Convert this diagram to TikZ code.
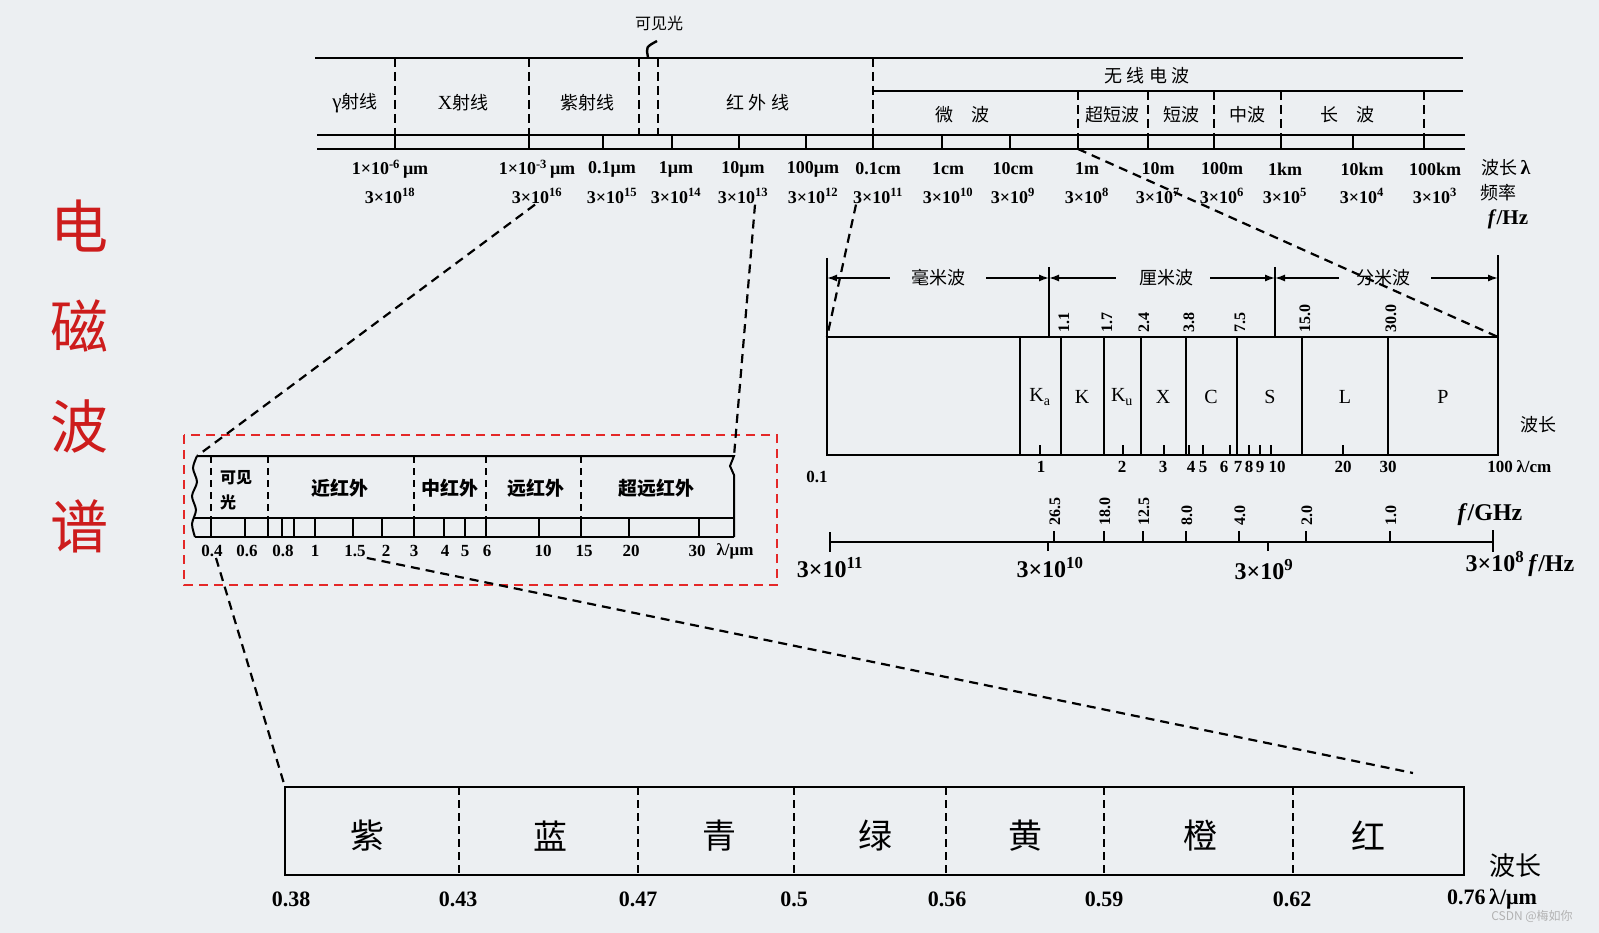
\documentclass[tikz,border=0pt]{standalone}
\usepackage{fontspec}
\setmainfont{Liberation Serif}
\newfontfamily\cjk{Noto Sans CJK SC}
\usetikzlibrary{arrows.meta}
\definecolor{titlered}{RGB}{205,28,28}
\definecolor{boxred}{RGB}{228,40,40}
\definecolor{bgray}{RGB}{236,239,242}

\begin{document}
\begin{tikzpicture}[x=1pt, y=-1pt,
  bandline/.style={line width=2.8pt},
  gapline/.style={line width=2.4pt, dash pattern=on 9pt off 5pt},
  zoomline/.style={line width=2.2pt, dash pattern=on 9pt off 6pt},
  rule/.style={line width=2pt},
  arr/.style={-{Latex[length=10pt,width=7pt]}, line width=1.4pt},
  num/.style={font=\fontsize{18}{20}\selectfont\bfseries, inner sep=1pt},
  cn/.style={font=\cjk\fontsize{18}{20}\selectfont, inner sep=1pt},
  rot/.style={font=\fontsize{16}{16}\selectfont\bfseries, rotate=90, anchor=west, inner sep=1pt},
  title/.style={font=\cjk\fontsize{58}{58}\selectfont, text=titlered, inner sep=0pt}]
\useasboundingbox (0,0) rectangle (1599,933);
\fill[bgray] (0,0) rectangle (1599,933);

\foreach \ch [count=\i] in {电,磁,波,谱}
  \node[title] (t\i) at (79,126+100*\i) {\ch};

\draw[bandline] (315,58) -- (1463,58);
\draw[bandline] (873,91) -- (1463,91);
\draw[bandline] (317,135) -- (1465,135);
\draw[bandline] (317,149) -- (1465,149);
\foreach \x in {395,529,639,658,873} \draw[gapline] (\x,58) -- (\x,135);
\foreach \x in {1078,1148,1214,1281,1424} \draw[gapline] (\x,91) -- (\x,135);
\foreach \x in {395,529,603,672,739,806,873,942,1010,1078,1148,1214,1281,1353,1424}
  \draw[bandline] (\x,135) -- (\x,149);
\coordinate (tick1m) at (1078,149);

\node[cn] (gam) at (355,103) {{\rmfamily\fontsize{21}{21}\selectfont γ}射线};
\node[cn] (xray) at (463,103) {{\rmfamily\fontsize{20}{20}\selectfont X}射线};
\node[cn] (uv) at (587,103) {紫射线};
\node[cn] (ir) at (758,103) {红 外 线};
\node[cn] (radio) at (1147,76) {无 线 电 波};
\node[cn] (micro) at (962,115) {微\quad 波};
\node[cn] (vhf) at (1112,115) {超短波};
\node[cn] (sw) at (1181,115) {短波};
\node[cn] (mw) at (1247,115) {中波};
\node[cn] (lw) at (1347,115) {长\quad 波};
\node[cn, font=\cjk\fontsize{16}{18}\selectfont] (vis) at (659,23) {可见光};
\draw[line width=2.4pt] (648,57) .. controls (646,47) .. (657,41);

\foreach \x/\wl/\fe in {390/{1×10\textsuperscript{-6}\,μm}/18, 537/{1×10\textsuperscript{-3}\,μm}/16,
    612/0.1μm/15, 676/1μm/14, 743/10μm/13, 813/100μm/12, 878/0.1cm/11, 948/1cm/10,
    1013/10cm/9, 1087/1m/8, 1158/10m/7, 1222/100m/6, 1285/1km/5, 1362/10km/4, 1435/100km/3} {
  \node[num] (w\fe) at (\x,169) {\wl};
  \node[num] (f\fe) at (\x,196) {3×10\textsuperscript{\fe}};
}
\node[num] (wlab) at (1506,168) {{\cjk\mdseries 波长}\,{\fontsize{20}{20}\selectfont λ}};
\node[cn] (flab) at (1498,193) {频率};
\node[num, font=\fontsize{21}{21}\selectfont\bfseries] (hzlab) at (1508,219) {\textit{f}/Hz};

% radar bands
\coordinate (radNW) at (827,337);
\coordinate (radNE) at (1498,337);
\coordinate (sepA) at (1049,267);
\coordinate (sepB) at (1275,267);
\draw[rule] (827,258) -- (827,455) -- (1498,455) -- (1498,255);
\draw[rule] (radNW) -- (radNE);
\draw[rule] (sepA) -- (1049,337);
\draw[rule] (sepB) -- (1275,337);
\foreach \x in {1020,1061,1104,1141,1186,1237,1302,1388} \draw[rule] (\x,337) -- (\x,455);

\node[cn] (mm) at (938,278) {毫米波};
\node[cn] (cm) at (1166,278) {厘米波};
\node[cn] (dm) at (1383,278) {分米波};
\draw[arr] ([xshift=-20pt]mm.west) -- (mm.west -| radNW);
\draw[arr] ([xshift=20pt]mm.east) -- (mm.east -| sepA);
\draw[arr] ([xshift=-22pt]cm.west) -- (cm.west -| sepA);
\draw[arr] ([xshift=16pt]cm.east) -- (cm.east -| sepB);
\draw[arr] ([xshift=-16pt]dm.west) -- (dm.west -| sepB);
\draw[arr] ([xshift=20pt]dm.east) -- (dm.east -| radNE);

\foreach \x/\lab [count=\i] in {1040/K\textsubscript{a}, 1082/K, 1122/K\textsubscript{u}, 1163/X,
    1211/C, 1270/S, 1345/L, 1443/P}
  \node[font=\fontsize{20}{20}\selectfont] (rb\i) at (\x,397) {\lab};
\foreach \x/\v [count=\i] in {1061/1.1, 1104/1.7, 1141/2.4, 1186/3.8, 1237/7.5, 1302/15.0, 1388/30.0}
  \node[rot] (rw\i) at (\x+3,334) {\v};
\foreach \x in {1040,1123,1164,1189,1203,1230,1249,1260,1271,1343}
  \draw[line width=1.5pt] (\x,455) -- (\x,445);
\foreach \x/\v [count=\i] in {1041/1, 1122/2, 1163/3, 1191/4, 1203/5, 1224/6, 1238/7, 1249/8,
    1260/9, 1277/10, 1343/20, 1388/30, 1500/100}
  \node[num, font=\fontsize{17}{17}\selectfont\bfseries] (cmt\i) at (\x,467) {\v};
\node[num, font=\fontsize{17}{17}\selectfont\bfseries] (cm0) at (817,477) {0.1};
\node[num, font=\fontsize{17}{17}\selectfont\bfseries] (cmu) at (1534,467) {λ/cm};
\node[cn] (wl2) at (1538,425) {波长};

% frequency axis
\draw[line width=1.8pt] (830,542) -- (1493,542);
\draw[line width=1.8pt] (830,532) -- (830,552);
\draw[line width=1.8pt] (1493,530) -- (1493,552);
\foreach \x/\v [count=\i] in {1054/26.5, 1104/18.0, 1143/12.5, 1186/8.0, 1239/4.0, 1306/2.0, 1390/1.0} {
  \draw[line width=1.8pt] (\x,542) -- (\x,531);
  \node[rot] (gz\i) at (\x+1,527) {\v};
}
\foreach \x in {1048,1268} \draw[line width=1.8pt] (\x,542) -- (\x,551);
\node[num, font=\fontsize{24}{24}\selectfont\bfseries] (hz11) at (830,568) {3×10\textsuperscript{11}};
\node[num, font=\fontsize{24}{24}\selectfont\bfseries] (hz10) at (1050,568) {3×10\textsuperscript{10}};
\node[num, font=\fontsize{24}{24}\selectfont\bfseries] (hz9) at (1264,570) {3×10\textsuperscript{9}};
\node[num, font=\fontsize{24}{24}\selectfont\bfseries] (hz8) at (1520,564) {3×10\textsuperscript{8}\,\textit{f}/Hz};
\node[num, font=\fontsize{24}{24}\selectfont\bfseries] (ghz) at (1490,515) {\textit{f}/GHz};

% infrared detail
\draw[boxred, line width=2pt, dash pattern=on 9pt off 6pt] (184,435) rectangle (777,585);
\coordinate (irNW) at (197,456);
\coordinate (irNE) at (734,456);
\draw[rule] (irNW) -- (irNE) -- (730,466) -- (734,475) -- (734,537);
\draw[rule] plot[smooth] coordinates {(197,456) (193,468) (197,482) (192,496) (196,510) (192,524) (195,537)};
\draw[line width=2.6pt] (194,518) -- (734,518);
\draw[rule] (195,537) -- (734,537);
\foreach \x in {211,268,414,486,581} \draw[rule, dash pattern=on 7pt off 5pt] (\x,456) -- (\x,518);
\foreach \x in {211,245,268,282,294,315,353,382,414,444,465,486,539,581,629,699}
  \draw[rule] (\x,518) -- (\x,537);
\node[cn, font=\cjk\bfseries\fontsize{16}{25}\selectfont, align=left, anchor=west] (visb) at (219,490) {可见\\光};
\node[cn, font=\cjk\bfseries\fontsize{19}{20}\selectfont] (nir) at (340,488) {近红外};
\node[cn, font=\cjk\bfseries\fontsize{19}{20}\selectfont] (mir) at (450,488) {中红外};
\node[cn, font=\cjk\bfseries\fontsize{19}{20}\selectfont] (fir) at (536,488) {远红外};
\node[cn, font=\cjk\bfseries\fontsize{19}{20}\selectfont] (xfir) at (656,488) {超远红外};
\foreach \x/\v [count=\i] in {212/0.4, 247/0.6, 283/0.8, 315/1, 355/1.5, 386/2, 414/3, 445/4, 465/5,
    487/6, 543/10, 584/15, 631/20, 697/30, 735/{λ/μm}}
  \node[num, font=\fontsize{17}{17}\selectfont\bfseries] (um\i) at (\x,551) {\v};

% visible detail
\coordinate (visNW) at (285,787);
\coordinate (visEnd) at (1413,773);
\draw[line width=2.2pt] (visNW) rectangle (1464,875);
\foreach \x in {459,638,794,946,1104,1293} \draw[rule, dash pattern=on 8pt off 5pt] (\x,787) -- (\x,875);
\foreach \x/\c [count=\i] in {367/紫, 550/蓝, 719/青, 875/绿, 1025/黄, 1200/橙, 1368/红}
  \node[cn, font=\cjk\fontsize{34}{34}\selectfont] (col\i) at (\x,836) {\c};
\foreach \x/\v [count=\i] in {291/0.38, 458/0.43, 638/0.47, 794/0.5, 947/0.56, 1104/0.59, 1292/0.62}
  \node[num, font=\fontsize{22}{22}\selectfont\bfseries] (nm\i) at (\x,899) {\v};
\node[num, font=\fontsize{22}{22}\selectfont\bfseries] (nmend) at (1492,899) {0.76\,λ/μm};
\node[cn, font=\cjk\fontsize{26}{26}\selectfont] (wl3) at (1515,866) {波长};

% zoom connectors
\draw[zoomline] ([xshift=-2pt]f16.south) -- (irNW);
\draw[zoomline] ([xshift=12pt]f13.south) -- (irNE);
\draw[zoomline] ([xshift=-22pt]f11.south) -- (radNW);
\draw[zoomline] (tick1m) -- (radNE);
\draw[zoomline] ([xshift=4pt]um1.south) -- (visNW);
\draw[zoomline] (um5.south east) -- (visEnd);

\node[font=\cjk\fontsize{12}{12}\selectfont, text=gray!60] (mark) at (1532,916) {CSDN @梅如你};
\end{tikzpicture}
\end{document}
